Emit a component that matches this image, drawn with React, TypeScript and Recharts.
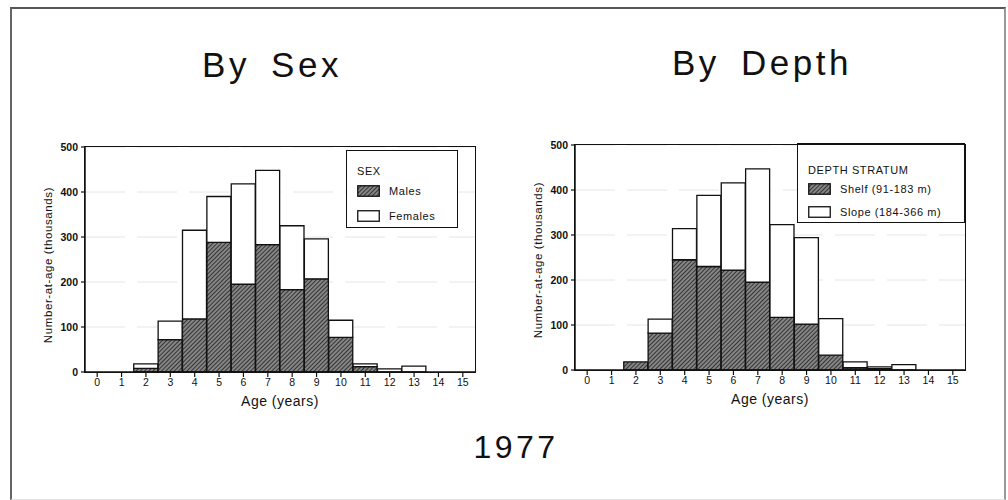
import React from 'react';
import { BarChart, Bar, XAxis, YAxis, CartesianGrid, Legend } from 'recharts';

// age classes (years)
const ages = [0, 1, 2, 3, 4, 5, 6, 7, 8, 9, 10, 11, 12, 13, 14, 15];

// by sex, thousands of fish
const males = [0, 0, 8, 72, 118, 288, 195, 283, 183, 207, 77, 12, 0, 0, 0, 0];
const females = [0, 0, 10, 41, 197, 102, 223, 165, 142, 89, 38, 6, 7, 13, 0, 0];

// by depth stratum, thousands of fish
const shelf = [0, 0, 18, 82, 245, 230, 222, 195, 117, 102, 33, 5, 3, 0, 0, 0];
const slope = [0, 0, 0, 31, 69, 158, 194, 252, 206, 192, 81, 13, 4, 12, 0, 0];

const yTicks = [0, 100, 200, 300, 400, 500];

const sexData = ages.map((a, i) => ({ age: a, hatched: males[i], open: females[i] }));
const depthData = ages.map((a, i) => ({ age: a, hatched: shelf[i], open: slope[i] }));

const FONT = '"Liberation Sans", Arial, Helvetica, sans-serif';

function Swatch({ hatched, id }: { hatched: boolean; id: string }) {
    return (
        <svg width={23} height={12} style={{ display: 'block' }}>
            <rect x={0.75} y={0.75} width={21.5} height={10.5}
                fill={hatched ? `url(#${id})` : '#fff'} stroke="#111" strokeWidth={1.3} />
        </svg>
    );
}

function AgeChart(props: any) {
    const { data, patternId, legendTitle, legendNames, left, top, legend, title, yLabelTop } = props;

    const renderLegend = () => (
        <div style={{
            position: 'relative', width: legend.w, height: legend.h, boxSizing: 'border-box',
            border: '1.5px solid #111', background: '#fff', fontFamily: FONT, fontSize: 11,
            letterSpacing: 0.6, color: '#111'
        }}>
            <div style={{ position: 'absolute', left: 10, top: legend.title - 7, lineHeight: '14px' }}>{legendTitle}</div>
            {legendNames.map((n: string, i: number) => (
                <div key={n} style={{
                    position: 'absolute', left: 10, top: legend.rows[i] - 7, height: 14,
                    display: 'flex', alignItems: 'center'
                }}>
                    <Swatch hatched={i === 0} id={patternId} />
                    <span style={{ marginLeft: 9, whiteSpace: 'nowrap' }}>{n}</span>
                </div>
            ))}
        </div>
    );

    return (
        <div style={{ position: 'absolute', left, top, width: 470, height: 290 }}>
            <BarChart width={470} height={280} data={data} barCategoryGap={0}
                margin={{ top: 17, right: 15, left: 25, bottom: 8 }}>
                <defs>
                    <pattern id={patternId} width={3} height={3} patternUnits="userSpaceOnUse" patternTransform="rotate(45)">
                        <rect width={3} height={3} fill="#858585" />
                        <line x1={0} y1={0} x2={0} y2={3} stroke="#1a1a1a" strokeWidth={1.5} />
                    </pattern>
                </defs>
                <CartesianGrid vertical={false} stroke="#e6e6e6" strokeDasharray="40 12" />
                <XAxis dataKey="age" interval={0} tickSize={5} tickMargin={2} height={30}
                    tick={{ fontSize: 10.5, fill: '#111', fontFamily: FONT }}
                    axisLine={{ stroke: '#111', strokeWidth: 1.5 }} tickLine={{ stroke: '#111', strokeWidth: 1.2 }} />
                <YAxis domain={[0, 500]} ticks={yTicks} width={40} tickSize={4} tickMargin={3}
                    tick={{ fontSize: 10.5, fill: '#111', fontFamily: FONT, fontWeight: 'bold' }}
                    axisLine={{ stroke: '#111', strokeWidth: 1.5 }} tickLine={{ stroke: '#111', strokeWidth: 1.2 }} />
                <Legend layout="vertical" align="center" verticalAlign="middle" content={renderLegend}
                    wrapperStyle={{ left: legend.x, top: legend.y, width: legend.w, height: legend.h }} />
                <Bar dataKey="hatched" stackId="a" fill={`url(#${patternId})`} stroke="#111" strokeWidth={1.3} isAnimationActive={false} />
                <Bar dataKey="open" stackId="a" fill="#fff" stroke="#111" strokeWidth={1.3} isAnimationActive={false} />
            </BarChart>
            {/* plot frame */}
            <div style={{
                position: 'absolute', left: 64.25, top: 16.25, width: 390, height: 225,
                border: '1.5px solid #111', pointerEvents: 'none'
            }} />
            <div style={{
                position: 'absolute', left: 65, width: 390, top: 263, textAlign: 'center',
                fontFamily: FONT, fontSize: 14, letterSpacing: 0.5, color: '#111'
            }}>Age (years)</div>
            <div style={{
                position: 'absolute', left: 28 - 100, top: yLabelTop - 8, width: 200, textAlign: 'center',
                transform: 'rotate(-90deg)', fontFamily: FONT, fontSize: 11.5, letterSpacing: 0.6,
                color: '#111', whiteSpace: 'nowrap'
            }}>Number-at-age (thousands)</div>
            <div style={{
                position: 'absolute', left: 7, width: 490, top: -83, textAlign: 'center',
                fontFamily: FONT, fontSize: 35, lineHeight: '35px', letterSpacing: 3.5, wordSpacing: 8,
                color: '#111', whiteSpace: 'nowrap'
            }}>{title}</div>
        </div>
    );
}

export default function App() {
    return (
        <div style={{ position: 'absolute', left: 0, top: 0, width: 1008, height: 500, background: '#fff' }}>
            <div style={{
                position: 'absolute', left: 10, top: 7, width: 992, height: 490,
                borderTop: '2px solid #555', borderLeft: '2px solid #666', borderRight: '2px solid #999',
                borderBottom: '1px solid #e2e2e2'
            }} />
            <AgeChart data={sexData} patternId="hatchSex" legendTitle="SEX" legendNames={['Males', 'Females']}
                left={20} top={130} title="By Sex" yLabelTop={137}
                legend={{ x: 326, y: 20, w: 112, h: 78, title: 20, rows: [40, 65] }} />
            <AgeChart data={depthData} patternId="hatchDepth" legendTitle="DEPTH STRATUM"
                legendNames={['Shelf (91-183 m)', 'Slope (184-366 m)']}
                left={510} top={128} title="By Depth" yLabelTop={134}
                legend={{ x: 287, y: 15, w: 168, h: 80, title: 26, rows: [44.5, 67.5] }} />
            <div style={{
                position: 'absolute', left: 416, width: 200, top: 431, textAlign: 'center',
                fontFamily: FONT, fontSize: 32, lineHeight: '32px', letterSpacing: 3.5, color: '#111'
            }}>1977</div>
        </div>
    );
}
